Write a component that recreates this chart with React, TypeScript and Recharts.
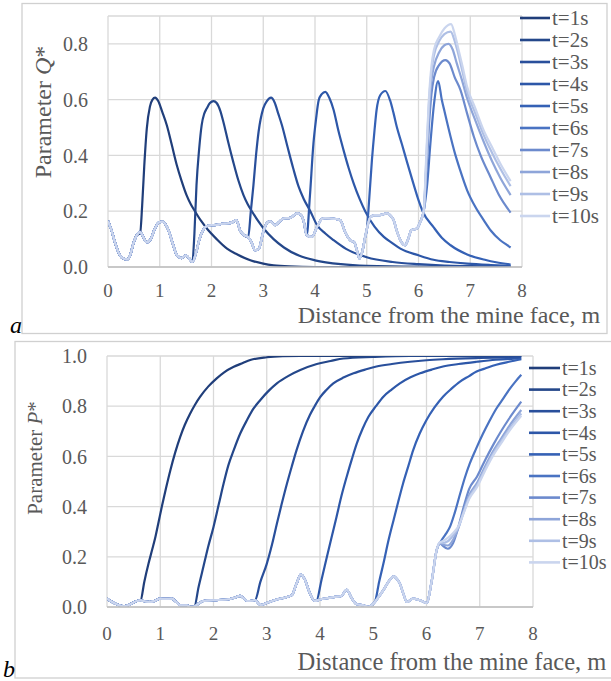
import React from 'react';
import { LineChart, Line, XAxis, YAxis, CartesianGrid } from 'recharts';

const xTicks = [0, 1, 2, 3, 4, 5, 6, 7, 8];
const qTicks = [0, 0.2, 0.4, 0.6, 0.8];
const pTicks = [0, 0.2, 0.4, 0.6, 0.8, 1.0];
const seriesNames = ['t=1s', 't=2s', 't=3s', 't=4s', 't=5s', 't=6s', 't=7s', 't=8s', 't=9s', 't=10s'];
const seriesColors = ['#203e7a', '#24478a', '#294f9b', '#2d57a8', '#3561b5', '#4a73c2', '#6c8acd', '#8ea5d9', '#aebfe5', '#cad5ee'];

// ---- Q* (panel a) ----
const qBackground: [number, number][] = [
  [0, 0.165], [0.07, 0.13], [0.14, 0.085], [0.22, 0.045], [0.3, 0.03], [0.36, 0.027], [0.42, 0.038], [0.5, 0.09],
  [0.56, 0.115], [0.62, 0.126], [0.68, 0.108], [0.75, 0.088], [0.82, 0.098], [0.9, 0.135], [0.98, 0.16], [1.05, 0.163],
  [1.15, 0.14], [1.25, 0.085], [1.33, 0.042], [1.42, 0.032], [1.5, 0.042], [1.57, 0.03], [1.63, 0.018], [1.7, 0.05],
  [1.76, 0.095], [1.83, 0.13], [1.9, 0.146], [2.0, 0.15], [2.1, 0.151], [2.2, 0.155], [2.3, 0.156], [2.4, 0.16],
  [2.48, 0.168], [2.55, 0.132], [2.62, 0.115], [2.7, 0.108], [2.77, 0.09], [2.84, 0.06], [2.91, 0.064], [3.0, 0.125],
  [3.07, 0.158], [3.13, 0.164], [3.23, 0.15], [3.3, 0.16], [3.39, 0.174], [3.52, 0.176], [3.65, 0.192], [3.72, 0.188],
  [3.78, 0.165], [3.84, 0.114], [3.94, 0.108], [4.04, 0.144], [4.13, 0.172], [4.2, 0.175], [4.29, 0.174], [4.4, 0.172],
  [4.49, 0.168], [4.58, 0.126], [4.68, 0.096], [4.76, 0.088], [4.81, 0.06], [4.86, 0.03], [4.92, 0.06], [4.97, 0.108],
  [5.07, 0.178], [5.15, 0.186], [5.25, 0.186], [5.39, 0.192], [5.47, 0.182], [5.52, 0.168], [5.58, 0.13], [5.65, 0.096],
  [5.74, 0.078], [5.8, 0.1], [5.86, 0.132], [5.97, 0.138], [6.03, 0.16], [6.1, 0.2],
];
const qFront1: [number, number][] = [
  [0.62, 0.12], [0.66, 0.22], [0.7, 0.36], [0.75, 0.497], [0.81, 0.575], [0.86, 0.6], [0.91, 0.607], [0.97, 0.595],
  [1.05, 0.555], [1.135, 0.509], [1.23, 0.44], [1.33, 0.365], [1.42, 0.31], [1.52, 0.257], [1.6, 0.225], [1.68, 0.2],
  [1.8, 0.165], [1.91, 0.138], [2.1, 0.1], [2.3, 0.066], [2.5, 0.045], [2.75, 0.024], [3.0, 0.012], [3.2, 0.006],
  [3.5, 0.002], [4.0, 0], [5.0, 0], [6.0, 0], [7.0, 0], [7.78, 0],
];
const qFront2: [number, number][] = [
  [1.63, 0.018], [1.67, 0.12], [1.71, 0.293], [1.76, 0.42], [1.81, 0.509], [1.86, 0.55], [1.91, 0.569], [1.97, 0.588],
  [2.04, 0.595], [2.1, 0.588], [2.17, 0.56], [2.23, 0.52], [2.32, 0.45], [2.42, 0.377], [2.52, 0.31], [2.62, 0.257],
  [2.7, 0.225], [2.78, 0.2], [2.9, 0.165], [3.0, 0.14], [3.2, 0.1], [3.4, 0.07], [3.7, 0.04], [4.0, 0.024],
  [4.5, 0.01], [5.0, 0.004], [6.0, 0.001], [7.78, 0],
];
const qFront3: [number, number][] = [
  [2.71, 0.108], [2.76, 0.2], [2.81, 0.293], [2.86, 0.4], [2.91, 0.485], [3.0, 0.569], [3.07, 0.595], [3.15, 0.607],
  [3.22, 0.59], [3.29, 0.55], [3.36, 0.509], [3.47, 0.43], [3.58, 0.353], [3.68, 0.29], [3.78, 0.245], [3.91, 0.2],
  [4.04, 0.15], [4.2, 0.12], [4.36, 0.096], [4.6, 0.065], [5.0, 0.035], [5.5, 0.018], [6.0, 0.01], [6.5, 0.005],
  [7.0, 0.003], [7.78, 0.001],
];
const qFront4: [number, number][] = [
  [3.84, 0.114], [3.9, 0.25], [3.97, 0.443], [4.02, 0.53], [4.07, 0.597], [4.13, 0.62], [4.2, 0.628], [4.28, 0.605],
  [4.36, 0.563], [4.45, 0.49], [4.55, 0.42], [4.65, 0.355], [4.75, 0.298], [4.86, 0.245], [4.97, 0.2], [5.15, 0.145],
  [5.33, 0.108], [5.5, 0.085], [5.65, 0.066], [6.0, 0.042], [6.29, 0.026], [6.6, 0.018], [6.94, 0.012], [7.4, 0.007],
  [7.78, 0.004],
];
const qFront5: [number, number][] = [
  [5.0, 0.13], [5.05, 0.25], [5.1, 0.383], [5.15, 0.49], [5.19, 0.563], [5.26, 0.616], [5.36, 0.631], [5.45, 0.598],
  [5.52, 0.55], [5.58, 0.503], [5.68, 0.44], [5.78, 0.375], [5.9, 0.3], [6.0, 0.24], [6.08, 0.2], [6.29, 0.143],
  [6.45, 0.105], [6.62, 0.078], [6.94, 0.045], [7.3, 0.025], [7.5, 0.017], [7.78, 0.009],
];
const qFront6: [number, number][] = [
  [6.1, 0.2], [6.17, 0.3], [6.23, 0.443], [6.3, 0.585], [6.38, 0.667], [6.45, 0.6], [6.5, 0.56], [6.62, 0.467],
  [6.7, 0.41], [6.8, 0.35], [6.94, 0.275], [7.1, 0.215], [7.26, 0.168], [7.4, 0.13], [7.58, 0.096], [7.7, 0.08],
  [7.78, 0.07],
];
const qFront7: [number, number][] = [
  [6.1, 0.2], [6.15, 0.33], [6.2, 0.5], [6.25, 0.62], [6.3, 0.68], [6.4, 0.725], [6.52, 0.742], [6.6, 0.73],
  [6.7, 0.68], [6.81, 0.635], [6.94, 0.55], [7.07, 0.467], [7.2, 0.4], [7.39, 0.323], [7.55, 0.26], [7.78, 0.195],
];
const qFront8: [number, number][] = [
  [6.1, 0.2], [6.15, 0.36], [6.2, 0.55], [6.25, 0.67], [6.3, 0.72], [6.4, 0.77], [6.5, 0.795], [6.58, 0.8],
  [6.66, 0.78], [6.74, 0.73], [6.84, 0.67], [6.94, 0.605], [7.1, 0.525], [7.26, 0.449], [7.42, 0.38], [7.58, 0.32],
  [7.78, 0.258],
];
const qFront9: [number, number][] = [
  [6.1, 0.2], [6.15, 0.38], [6.2, 0.58], [6.25, 0.7], [6.3, 0.76], [6.4, 0.81], [6.5, 0.835], [6.62, 0.844],
  [6.7, 0.81], [6.76, 0.77], [6.85, 0.7], [6.94, 0.628], [7.1, 0.55], [7.26, 0.473], [7.42, 0.41], [7.58, 0.353],
  [7.78, 0.29],
];
const qFront10: [number, number][] = [
  [6.1, 0.2], [6.15, 0.4], [6.2, 0.6], [6.25, 0.72], [6.3, 0.78], [6.4, 0.825], [6.5, 0.855], [6.63, 0.871],
  [6.7, 0.835], [6.76, 0.79], [6.85, 0.72], [6.94, 0.646], [7.1, 0.568], [7.26, 0.49], [7.42, 0.43], [7.58, 0.371],
  [7.78, 0.308],
];
const qFronts = [qFront1, qFront2, qFront3, qFront4, qFront5, qFront6, qFront7, qFront8, qFront9, qFront10];

// ---- P* (panel b) ----
const pBackground: [number, number][] = [
  [0, 0.033], [0.08, 0.022], [0.16, 0.013], [0.25, 0.006], [0.31, 0.003], [0.38, 0.006], [0.44, 0.011], [0.5, 0.018],
  [0.56, 0.024], [0.63, 0.026], [0.72, 0.022], [0.81, 0.02], [0.9, 0.025], [1.0, 0.033], [1.1, 0.032], [1.22, 0.033],
  [1.3, 0.02], [1.375, 0.007], [1.5, 0.007], [1.56, 0.001], [1.64, 0.002], [1.72, 0.014], [1.81, 0.024], [2.0, 0.027],
  [2.25, 0.03], [2.41, 0.038], [2.5, 0.044], [2.57, 0.034], [2.63, 0.024], [2.72, 0.025], [2.78, 0.027], [2.88, 0.008],
  [3.0, 0.016], [3.1, 0.024], [3.19, 0.03], [3.35, 0.038], [3.47, 0.047], [3.56, 0.093], [3.64, 0.13], [3.72, 0.107],
  [3.8, 0.06], [3.9, 0.024], [4.0, 0.03], [4.13, 0.035], [4.28, 0.04], [4.4, 0.044], [4.5, 0.068], [4.6, 0.033],
  [4.69, 0.011], [4.81, 0.007], [4.91, 0.001], [5.03, 0.02], [5.1, 0.04], [5.19, 0.067], [5.3, 0.105], [5.38, 0.122],
  [5.45, 0.11], [5.5, 0.093], [5.57, 0.05], [5.63, 0.02], [5.75, 0.033], [5.91, 0.024], [6.0, 0.016],
];
const pFront1: [number, number][] = [
  [0.63, 0.026], [0.7, 0.1], [0.78, 0.173], [0.85, 0.23], [0.91, 0.28], [0.97, 0.34], [1.03, 0.4], [1.11, 0.475],
  [1.19, 0.545], [1.28, 0.615], [1.375, 0.678], [1.46, 0.725], [1.56, 0.77], [1.65, 0.805], [1.75, 0.838], [1.9, 0.878],
  [2.06, 0.911], [2.2, 0.935], [2.38, 0.957], [2.55, 0.972], [2.69, 0.984], [3.0, 0.995], [3.3, 0.999], [3.63, 1.0],
  [4.5, 1.0], [5.5, 1.0], [6.5, 1.0], [7.78, 1.0],
];
const pFront2: [number, number][] = [
  [1.64, 0.002], [1.72, 0.08], [1.81, 0.16], [1.9, 0.24], [2.0, 0.319], [2.1, 0.41], [2.19, 0.492], [2.28, 0.565],
  [2.38, 0.625], [2.5, 0.69], [2.63, 0.745], [2.75, 0.79], [2.88, 0.825], [3.03, 0.86], [3.19, 0.891], [3.4, 0.92],
  [3.63, 0.944], [3.94, 0.968], [4.2, 0.98], [4.44, 0.99], [5.0, 0.996], [5.69, 1.0], [7.78, 1.0],
];
const pFront3: [number, number][] = [
  [2.78, 0.027], [2.88, 0.1], [3.0, 0.172], [3.1, 0.25], [3.19, 0.332], [3.28, 0.41], [3.38, 0.492], [3.47, 0.56],
  [3.56, 0.625], [3.68, 0.7], [3.81, 0.765], [3.9, 0.8], [4.0, 0.835], [4.12, 0.865], [4.25, 0.891], [4.45, 0.915],
  [4.63, 0.931], [4.85, 0.946], [5.06, 0.958], [5.35, 0.968], [5.69, 0.977], [6.0, 0.983], [6.31, 0.987], [7.0, 0.992],
  [7.78, 0.995],
];
const pFront4: [number, number][] = [
  [3.93, 0.024], [4.03, 0.11], [4.13, 0.2], [4.22, 0.28], [4.31, 0.359], [4.4, 0.44], [4.5, 0.518], [4.6, 0.59],
  [4.69, 0.651], [4.8, 0.71], [4.91, 0.758], [5.05, 0.8], [5.19, 0.838], [5.35, 0.867], [5.5, 0.891], [5.7, 0.915],
  [5.88, 0.931], [6.1, 0.946], [6.31, 0.958], [6.6, 0.968], [6.94, 0.977], [7.3, 0.985], [7.78, 0.99],
];
const pFront5: [number, number][] = [
  [5.03, 0.02], [5.11, 0.1], [5.19, 0.172], [5.28, 0.26], [5.38, 0.345], [5.47, 0.42], [5.56, 0.492], [5.66, 0.562],
  [5.75, 0.625], [5.87, 0.69], [6.0, 0.745], [6.15, 0.795], [6.31, 0.838], [6.47, 0.87], [6.63, 0.898], [6.8, 0.92],
  [6.94, 0.938], [7.1, 0.95], [7.31, 0.965], [7.55, 0.977], [7.78, 0.987],
];
const pFront6: [number, number][] = [
  [6.0, 0.016], [6.1, 0.106], [6.19, 0.226], [6.28, 0.265], [6.36, 0.29], [6.44, 0.319], [6.53, 0.375], [6.63, 0.45],
  [6.72, 0.515], [6.81, 0.57], [6.93, 0.63], [7.06, 0.69], [7.18, 0.74], [7.31, 0.79], [7.44, 0.83], [7.56, 0.868],
  [7.67, 0.898], [7.78, 0.925],
];
const pFront7: [number, number][] = [
  [6.0, 0.016], [6.1, 0.106], [6.19, 0.226], [6.25, 0.255], [6.3, 0.245], [6.4, 0.232], [6.5, 0.255], [6.6, 0.32],
  [6.7, 0.4], [6.8, 0.47], [6.95, 0.52], [7.1, 0.585], [7.25, 0.645], [7.4, 0.7], [7.55, 0.75], [7.78, 0.818],
];
const pFront8: [number, number][] = [
  [6.0, 0.016], [6.1, 0.106], [6.19, 0.226], [6.25, 0.255], [6.3, 0.25], [6.4, 0.245], [6.5, 0.268], [6.6, 0.315],
  [6.7, 0.385], [6.8, 0.445], [6.95, 0.495], [7.1, 0.56], [7.25, 0.62], [7.4, 0.67], [7.55, 0.72], [7.78, 0.785],
];
const pFront9: [number, number][] = [
  [6.0, 0.016], [6.1, 0.106], [6.19, 0.226], [6.25, 0.255], [6.3, 0.255], [6.4, 0.262], [6.5, 0.285], [6.6, 0.318],
  [6.7, 0.378], [6.8, 0.435], [6.95, 0.485], [7.1, 0.55], [7.25, 0.61], [7.4, 0.66], [7.55, 0.707], [7.78, 0.771],
];
const pFront10: [number, number][] = [
  [6.0, 0.016], [6.1, 0.106], [6.19, 0.226], [6.25, 0.258], [6.3, 0.262], [6.4, 0.275], [6.5, 0.295], [6.6, 0.322],
  [6.7, 0.375], [6.8, 0.43], [6.95, 0.478], [7.1, 0.543], [7.25, 0.603], [7.4, 0.652], [7.55, 0.7], [7.78, 0.762],
];
const pFronts = [pFront1, pFront2, pFront3, pFront4, pFront5, pFront6, pFront7, pFront8, pFront9, pFront10];

const buildSeries = (bg: [number, number][], front: [number, number][]) => {
  const x0 = front[0][0];
  return [...bg.filter((p) => p[0] < x0), ...front].map(([x, y]) => ({ x, y }));
};

const FONT = "'Liberation Serif', 'Times New Roman', Times, serif";
const TXT = '#595959';
const GRID = '#d9d9d9';
const textStyle: React.CSSProperties = { fontFamily: FONT };

function Panel(props: {
  height: number;
  margin: { top: number; right: number; bottom: number; left: number };
  yDomain: [number, number];
  yTicks: number[];
  bg: [number, number][];
  fronts: [number, number][][];
  tickMarginX: number;
}) {
  const { height, margin, yDomain, yTicks, bg, fronts, tickMarginX } = props;
  return (
    <LineChart width={611} height={height} margin={margin} style={textStyle}>
      <CartesianGrid stroke={GRID} strokeWidth={1.3} />
      <XAxis
        type="number"
        dataKey="x"
        domain={[0, 8]}
        ticks={xTicks}
        allowDataOverflow
        height={30}
        tickLine={false}
        tickSize={0}
        tickMargin={tickMarginX}
        axisLine={{ stroke: '#bfbfbf', strokeWidth: 1.3 }}
        tick={{ fontFamily: FONT, fontSize: 19, fill: TXT, style: textStyle }}
        interval={0}
      />
      <YAxis
        type="number"
        domain={yDomain}
        ticks={yTicks}
        allowDataOverflow
        width={60}
        tickLine={false}
        axisLine={false}
        tickSize={0}
        tickMargin={20}
        interval={0}
        tickFormatter={(v: number) => v.toFixed(1)}
        tick={{ fontFamily: FONT, fontSize: 20, fill: TXT, style: textStyle }}
      />
      {fronts.map((f, i) => (
        <Line
          key={seriesNames[i]}
          data={buildSeries(bg, f)}
          dataKey="y"
          type="monotone"
          stroke={seriesColors[i]}
          strokeWidth={2.2}
          dot={false}
          activeDot={false}
          isAnimationActive={false}
        />
      ))}
    </LineChart>
  );
}

function LegendBlock(props: { x: number; y0: number; step: number; len: number; fontSize: number }) {
  const { x, y0, step, len, fontSize } = props;
  return (
    <g>
      {seriesNames.map((n, i) => (
        <g key={n}>
          <line x1={x} x2={x + len} y1={y0 + i * step} y2={y0 + i * step} stroke={seriesColors[i]} strokeWidth={2.6} />
          <text x={x + len + 2} y={y0 + i * step} dy="0.34em" style={textStyle} fontSize={fontSize} fill={TXT}>
            {n}
          </text>
        </g>
      ))}
    </g>
  );
}

export default function App() {
  return (
    <div style={{ position: 'absolute', left: 0, top: 0, width: 611, height: 681, background: '#fff', overflow: 'hidden', fontFamily: FONT }}>
      <svg width={611} height={681} style={{ position: 'absolute', left: 0, top: 0 }}>
        <rect x={22} y={3.5} width={585} height={330} fill="none" stroke="#d0d0d0" strokeWidth={1.3} />
        <rect x={15} y={341.5} width={600} height={336.5} fill="none" stroke="#d0d0d0" strokeWidth={1.3} />
      </svg>
      <div style={{ position: 'absolute', left: 0, top: 0 }}>
        <Panel
          height={340}
          margin={{ top: 16, right: 89, bottom: 43, left: 48 }}
          yDomain={[0, 0.9]}
          yTicks={qTicks}
          bg={qBackground}
          fronts={qFronts}
          tickMarginX={17}
        />
      </div>
      <div style={{ position: 'absolute', left: 0, top: 340 }}>
        <Panel
          height={341}
          margin={{ top: 16, right: 78, bottom: 44, left: 47 }}
          yDomain={[0, 1]}
          yTicks={pTicks}
          bg={pBackground}
          fronts={pFronts}
          tickMarginX={20}
        />
      </div>
      <svg width={611} height={681} style={{ position: 'absolute', left: 0, top: 0, pointerEvents: 'none' }}>
        <LegendBlock x={520} y0={18} step={22} len={30} fontSize={21} />
        <LegendBlock x={529} y0={368} step={21.6} len={31} fontSize={20} />
        <text transform="translate(43,112) rotate(-90)" textAnchor="middle" dy="0.35em" style={textStyle} fontSize={24} fill={TXT}>
          Parameter <tspan fontStyle="italic">Q</tspan>*
        </text>
        <text transform="translate(35,458) rotate(-90)" textAnchor="middle" dy="0.35em" style={textStyle} fontSize={21} fill={TXT}>
          Parameter <tspan fontStyle="italic">P</tspan>*
        </text>
        <text x={449} y={323} textAnchor="middle" style={textStyle} fontSize={24} fill={TXT}>
          Distance from the mine face, m
        </text>
        <text x={452} y={670} textAnchor="middle" style={textStyle} fontSize={24.5} fill={TXT}>
          Distance from the mine face, m
        </text>
        <text x={10} y={333} style={textStyle} fontStyle="italic" fontSize={24} fill="#000">
          a
        </text>
        <text x={3} y={677} style={textStyle} fontStyle="italic" fontSize={24} fill="#000">
          b
        </text>
      </svg>
    </div>
  );
}
